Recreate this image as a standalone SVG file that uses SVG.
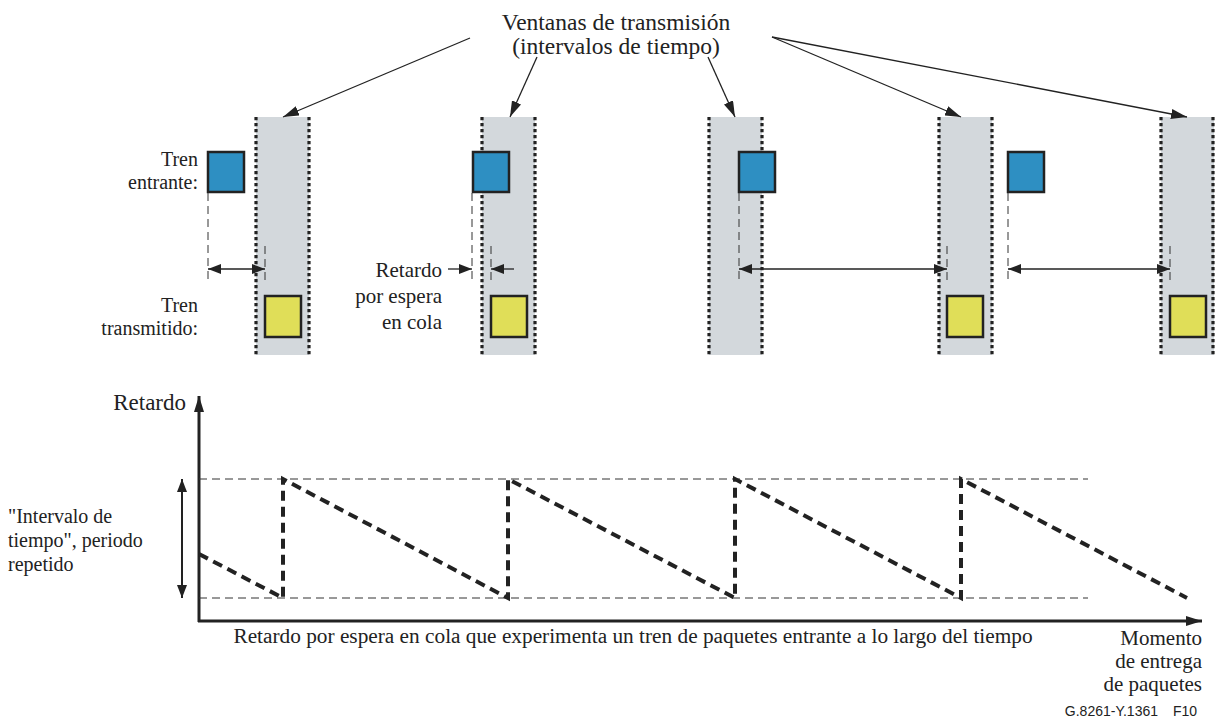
<svg xmlns="http://www.w3.org/2000/svg" width="1215" height="720" viewBox="0 0 1215 720">
<style>
.t{font-family:"Liberation Serif","Times New Roman",serif;font-size:20px;fill:#222}
.t21{font-size:21px}
.win{fill:#d3d8dc}
.dot{stroke:#222;stroke-width:3.2;stroke-dasharray:3.2 2.8;fill:none}
.blue{fill:#2e8fc2;stroke:#222;stroke-width:2.5}
.yel{fill:#e0de58;stroke:#222;stroke-width:2.5}
.thin{stroke:#333;stroke-width:1;stroke-dasharray:8 5;fill:none}
.ln{stroke:#222;stroke-width:1.3;fill:none}
.saw{stroke:#222;stroke-width:4;stroke-dasharray:10 6;fill:none}
.ax{stroke:#222;stroke-width:3;fill:none}
</style>
<defs>
<marker id="ah" viewBox="0 0 16 10" refX="16" refY="5" markerWidth="16" markerHeight="10" markerUnits="userSpaceOnUse" orient="auto-start-reverse">
<path d="M0,0 L16,5 L0,10 z" fill="#222"/>
</marker>
<marker id="ahs" viewBox="0 0 13 10" refX="13" refY="5" markerWidth="13" markerHeight="10" markerUnits="userSpaceOnUse" orient="auto-start-reverse">
<path d="M0,0 L13,5 L0,10 z" fill="#222"/>
</marker>
</defs>

<g id="windows">
<g id="win1"><rect class="win" x="256" y="117" width="53" height="238"/><line class="dot" x1="256" y1="117" x2="256" y2="355"/><line class="dot" x1="309" y1="117" x2="309" y2="355"/></g>
<g id="win2"><rect class="win" x="482" y="117" width="53" height="238"/><line class="dot" x1="482" y1="117" x2="482" y2="355"/><line class="dot" x1="535" y1="117" x2="535" y2="355"/></g>
<g id="win3"><rect class="win" x="709" y="117" width="53" height="238"/><line class="dot" x1="709" y1="117" x2="709" y2="355"/><line class="dot" x1="762" y1="117" x2="762" y2="355"/></g>
<g id="win4"><rect class="win" x="939" y="117" width="53" height="238"/><line class="dot" x1="939" y1="117" x2="939" y2="355"/><line class="dot" x1="992" y1="117" x2="992" y2="355"/></g>
<g id="win5"><rect class="win" x="1161" y="117" width="53" height="238"/><line class="dot" x1="1161" y1="117" x2="1161" y2="355"/><line class="dot" x1="1213" y1="117" x2="1213" y2="355"/></g>
</g>

<g id="packets">
<rect id="in1" class="blue" x="208" y="152" width="36" height="40"/>
<rect id="in2" class="blue" x="473" y="152" width="36" height="40"/>
<rect id="in3" class="blue" x="739" y="152" width="36" height="40"/>
<rect id="in4" class="blue" x="1008" y="152" width="36" height="40"/>
<rect id="out1" class="yel" x="265" y="296" width="36" height="41"/>
<rect id="out2" class="yel" x="491" y="296" width="36" height="41"/>
<rect id="out3" class="yel" x="947" y="296" width="36" height="41"/>
<rect id="out4" class="yel" x="1170" y="296" width="36" height="41"/>
</g>

<g id="labels">
<text class="t" x="198" y="166" text-anchor="end">Tren</text>
<text class="t" x="198" y="189" text-anchor="end">entrante:</text>
<text class="t" x="198" y="312" text-anchor="end">Tren</text>
<text class="t" x="198" y="335" text-anchor="end">transmitido:</text>
<text class="t t21" x="442" y="277" text-anchor="end">Retardo</text>
<text class="t t21" x="442" y="303" text-anchor="end">por espera</text>
<text class="t t21" x="442" y="329" text-anchor="end">en cola</text>
<text class="t" x="616" y="30" text-anchor="middle" style="font-size:23.5px">Ventanas de transmisión</text>
<text class="t" x="616" y="54" text-anchor="middle" style="font-size:23.5px">(intervalos de tiempo)</text>
<text class="t" x="186" y="410" text-anchor="end" style="font-size:23px">Retardo</text>
<text class="t" x="8" y="523">"Intervalo de</text>
<text class="t" x="8" y="547">tiempo", periodo</text>
<text class="t" x="8" y="571">repetido</text>
<text class="t" x="633" y="643" text-anchor="middle" style="font-size:21.3px">Retardo por espera en cola que experimenta un tren de paquetes entrante a lo largo del tiempo</text>
<text class="t t21" x="1202" y="645" text-anchor="end">Momento</text>
<text class="t t21" x="1202" y="668" text-anchor="end">de entrega</text>
<text class="t t21" x="1202" y="691" text-anchor="end">de paquetes</text>
<text x="1158" y="716" text-anchor="end" style="font-family:'Liberation Sans',Arial,sans-serif;font-size:14px;fill:#222">G.8261-Y.1361<tspan x="1173" text-anchor="start">F10</tspan></text>
</g>

<g id="connectors">
<line class="ln" x1="470" y1="38" x2="283" y2="117" marker-end="url(#ah)"/>
<line class="ln" x1="537" y1="57" x2="510" y2="117" marker-end="url(#ah)"/>
<line class="ln" x1="708" y1="57" x2="735" y2="117" marker-end="url(#ah)"/>
<line class="ln" x1="772" y1="37" x2="961" y2="117" marker-end="url(#ah)"/>
<line class="ln" x1="772" y1="37" x2="1187" y2="117" marker-end="url(#ah)"/>

<line class="thin" x1="208" y1="193" x2="208" y2="283"/>
<line class="thin" x1="265" y1="246" x2="265" y2="283"/>
<line class="ln" x1="208" y1="269" x2="265" y2="269" marker-start="url(#ahs)" marker-end="url(#ahs)"/>

<line class="thin" x1="472" y1="193" x2="472" y2="283"/>
<line class="thin" x1="491" y1="246" x2="491" y2="283"/>
<line class="ln" x1="448" y1="269" x2="472" y2="269" marker-end="url(#ahs)"/>
<line class="ln" x1="514" y1="269" x2="491" y2="269" marker-end="url(#ahs)"/>

<line class="thin" x1="739" y1="193" x2="739" y2="283"/>
<line class="thin" x1="947" y1="246" x2="947" y2="283"/>
<line class="ln" x1="739" y1="269" x2="947" y2="269" marker-start="url(#ahs)" marker-end="url(#ahs)"/>

<line class="thin" x1="1008" y1="193" x2="1008" y2="283"/>
<line class="thin" x1="1170" y1="246" x2="1170" y2="283"/>
<line class="ln" x1="1008" y1="269" x2="1170" y2="269" marker-start="url(#ahs)" marker-end="url(#ahs)"/>
</g>

<g id="chart">
<line class="ax" x1="199" y1="622" x2="199" y2="396" marker-end="url(#ah)"/>
<line class="ax" x1="198" y1="621" x2="1202" y2="621" marker-end="url(#ah)"/>
<line class="thin" x1="199" y1="479" x2="1088" y2="479"/>
<line class="thin" x1="199" y1="598" x2="1088" y2="598"/>
<line class="ax" x1="182" y1="598" x2="182" y2="479" marker-start="url(#ahs)" marker-end="url(#ahs)" style="stroke-width:2"/>
<path class="saw" d="M199,554 L283,598 L283,479 L508,598 L508,479 L735,598 L735,479 L961,598 L961,479 L1187,598"/>
</g>
</svg>
